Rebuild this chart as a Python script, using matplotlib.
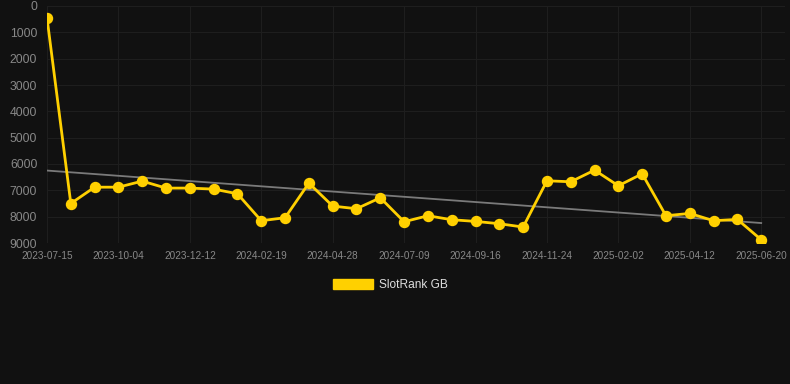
import matplotlib
matplotlib.use("Agg")
import matplotlib.pyplot as plt
from matplotlib.patches import Patch
import numpy as np

plt.rcParams["font.family"] = ["Liberation Sans", "DejaVu Sans"]

ranks = [450, 7500, 6880, 6880, 6650, 6915, 6915, 6953, 7130, 8154,
         8040, 6726, 7598, 7699, 7282, 8192, 7965, 8116, 8180, 8268,
         8394, 6637, 6675, 6233, 6827, 6372, 7965, 7876, 8154, 8104, 8875]
tick_labels = ["2023-07-15", "2023-10-04", "2023-12-12", "2024-02-19", "2024-04-28",
               "2024-07-09", "2024-09-16", "2024-11-24", "2025-02-02", "2025-04-12",
               "2025-06-20"]
series_name = "SlotRank GB"
y_ticks = [0, 1000, 2000, 3000, 4000, 5000, 6000, 7000, 8000, 9000]

BG = "#111111"
GOLD = "#FFD000"

fig = plt.figure(figsize=(7.9, 3.84), dpi=100, facecolor=BG)
ax = fig.add_axes([47/790, 1-243/384, (785-47)/790, (243-6)/384], facecolor=BG)

x = np.arange(len(ranks))
coef = np.polyfit(x, ranks, 1)
ax.plot(x, np.polyval(coef, x), color="#7a7a7a", lw=1.3, zorder=2)
ax.plot(x, ranks, color=GOLD, lw=2.0, marker="o", markersize=7.2, zorder=3)

ax.set_xlim(0, 31)
ax.set_ylim(9000, 0)
ax.set_yticks(y_ticks)
ax.set_yticklabels([str(v) for v in y_ticks])
ax.set_xticks(x[::3])
ax.set_xticklabels(tick_labels)
ax.tick_params(axis="y", colors="#888888", labelsize=8.8, length=0, pad=7)
ax.tick_params(axis="x", colors="#888888", labelsize=7.2, length=0, pad=6)
ax.grid(True, color="#1e1e1e", lw=0.8)
ax.set_axisbelow(True)
for s in ax.spines.values():
    s.set_visible(False)

fig.legend(handles=[Patch(facecolor=GOLD, edgecolor=GOLD)], labels=[series_name],
           loc="center", bbox_to_anchor=(0.494, 1-285/384), frameon=False,
           fontsize=8.6, handlelength=3.4, handleheight=1.0, handletextpad=0.45,
           labelcolor="#dddddd")

fig.savefig("out.png", dpi=100, facecolor=BG)
